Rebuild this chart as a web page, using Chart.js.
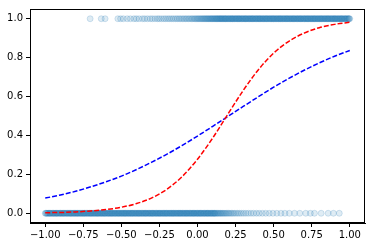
<!DOCTYPE html>
<html>
<head>
<meta charset="utf-8">
<script src="https://cdn.jsdelivr.net/npm/chart.js@4/dist/chart.umd.min.js"></script>
<style>
  html, body { margin: 0; padding: 0; background: #fff; }
  canvas { display: block; }
</style>
</head>
<body>
<canvas id="chart" width="372" height="248"></canvas>
<script>
// ejes
const xTicks = [-1.00, -0.75, -0.50, -0.25, 0.00, 0.25, 0.50, 0.75, 1.00];
const yTicks = [0.0, 0.2, 0.4, 0.6, 0.8, 1.0];

// curvas
const curveX = [-1.0, -0.9, -0.8, -0.7, -0.6, -0.5, -0.4, -0.3, -0.2, -0.1, 0.0,
                0.1, 0.2, 0.3, 0.4, 0.5, 0.6, 0.7, 0.8, 0.9, 1.0];
const redCurve = [0.003, 0.004, 0.007, 0.012, 0.019, 0.031, 0.050, 0.079, 0.124, 0.189, 0.278,
                  0.387, 0.510, 0.631, 0.738, 0.823, 0.884, 0.926, 0.954, 0.971, 0.982];
const blueCurve = [0.078, 0.094, 0.113, 0.136, 0.162, 0.191, 0.225, 0.263, 0.304, 0.349, 0.397,
                   0.447, 0.498, 0.549, 0.599, 0.648, 0.693, 0.735, 0.773, 0.807, 0.837];

// puntos con y = 0
const zeroX = [
  -1.000,-0.996,-0.991,-0.988,-0.982,-0.978,-0.973,-0.969,-0.966,-0.961,
  -0.955,-0.951,-0.946,-0.943,-0.937,-0.933,-0.928,-0.924,-0.921,-0.916,
  -0.910,-0.906,-0.901,-0.898,-0.892,-0.888,-0.883,-0.879,-0.876,-0.871,
  -0.865,-0.861,-0.856,-0.853,-0.847,-0.843,-0.838,-0.834,-0.831,-0.826,
  -0.820,-0.816,-0.811,-0.808,-0.802,-0.798,-0.793,-0.789,-0.786,-0.781,
  -0.775,-0.771,-0.766,-0.763,-0.757,-0.753,-0.748,-0.744,-0.741,-0.736,
  -0.730,-0.726,-0.721,-0.718,-0.712,-0.708,-0.703,-0.699,-0.696,-0.691,
  -0.685,-0.681,-0.676,-0.673,-0.667,-0.663,-0.658,-0.654,-0.651,-0.646,
  -0.640,-0.636,-0.631,-0.628,-0.622,-0.618,-0.613,-0.609,-0.606,-0.601,
  -0.595,-0.591,-0.586,-0.583,-0.577,-0.573,-0.568,-0.564,-0.561,-0.556,
  -0.550,-0.546,-0.541,-0.538,-0.532,-0.528,-0.523,-0.519,-0.516,-0.511,
  -0.505,-0.501,-0.496,-0.493,-0.487,-0.483,-0.478,-0.474,-0.471,-0.466,
  -0.460,-0.456,-0.451,-0.448,-0.442,-0.438,-0.433,-0.429,-0.426,-0.421,
  -0.415,-0.411,-0.406,-0.403,-0.397,-0.393,-0.388,-0.384,-0.381,-0.376,
  -0.370,-0.366,-0.361,-0.358,-0.352,-0.348,-0.343,-0.339,-0.336,-0.331,
  -0.325,-0.321,-0.316,-0.313,-0.307,-0.303,-0.298,-0.294,-0.291,-0.286,
  -0.280,-0.276,-0.271,-0.268,-0.262,-0.258,-0.253,-0.249,-0.246,-0.241,
  -0.235,-0.231,-0.226,-0.223,-0.217,-0.213,-0.208,-0.204,-0.201,-0.196,
  -0.190,-0.186,-0.181,-0.178,-0.172,-0.168,-0.163,-0.159,-0.156,-0.151,
  -0.145,-0.141,-0.136,-0.133,-0.127,-0.123,-0.118,-0.114,-0.111,-0.106,
  -0.100,-0.096,-0.091,-0.088,-0.082,-0.078,-0.073,-0.069,-0.066,-0.061,
  -0.055,-0.051,-0.046,-0.043,-0.037,-0.033,-0.028,-0.024,-0.021,-0.016,
  -0.010,-0.006,-0.001,0.002,0.008,0.012,0.017,0.021,0.024,0.029,
  0.035,0.039,0.044,0.047,0.053,0.057,0.062,0.066,0.069,0.074,
  0.080,0.084,0.089,0.092,0.098,0.102,0.107,0.111,0.114,0.119,
  0.125,0.131,0.136,0.142,0.149,0.154,0.161,0.167,0.174,0.181,
  0.189,0.196,0.205,0.213,0.222,0.232,0.241,0.253,0.264,0.276,
  0.289,0.303,0.318,0.334,0.351,0.368,0.387,0.405,0.426,0.448,
  0.471,0.495,0.521,0.548,0.574,0.603,0.637,0.672,0.711,0.741,
  0.768,0.812,0.858,0.893,0.931
];

// puntos con y = 1
const oneX = [
  -0.705,-0.632,-0.607,-0.523,-0.505,-0.487,-0.462,-0.441,-0.418,-0.402,
  -0.384,-0.362,-0.347,-0.329,-0.311,-0.296,-0.279,-0.263,-0.251,-0.236,
  -0.221,-0.208,-0.194,-0.182,-0.169,-0.157,-0.144,-0.133,-0.121,-0.111,
  -0.099,-0.089,-0.078,-0.069,-0.058,-0.049,-0.039,-0.031,-0.022,-0.014,
  -0.006,0.001,0.008,0.015,0.022,0.028,0.035,0.041,0.047,0.053,
  0.059,0.064,0.070,0.075,0.081,0.086,0.091,0.096,0.101,0.106,
  0.111,0.116,0.121,0.125,0.130,0.134,0.139,0.143,0.148,
  0.152,0.156,0.161,0.164,0.170,0.174,0.179,0.183,0.186,0.191,
  0.197,0.201,0.206,0.209,0.215,0.219,0.224,0.228,0.231,0.236,
  0.242,0.246,0.251,0.254,0.260,0.264,0.269,0.273,0.276,0.281,
  0.287,0.291,0.296,0.299,0.305,0.309,0.314,0.318,0.321,0.326,
  0.332,0.336,0.341,0.344,0.350,0.354,0.359,0.363,0.366,0.371,
  0.377,0.381,0.386,0.389,0.395,0.399,0.404,0.408,0.411,0.416,
  0.422,0.426,0.431,0.434,0.440,0.444,0.449,0.453,0.456,0.461,
  0.467,0.471,0.476,0.479,0.485,0.489,0.494,0.498,0.501,0.506,
  0.512,0.516,0.521,0.524,0.530,0.534,0.539,0.543,0.546,0.551,
  0.557,0.561,0.566,0.569,0.575,0.579,0.584,0.588,0.591,0.596,
  0.602,0.606,0.611,0.614,0.620,0.624,0.629,0.633,0.636,0.641,
  0.647,0.651,0.656,0.659,0.665,0.669,0.674,0.678,0.681,0.686,
  0.692,0.696,0.701,0.704,0.710,0.714,0.719,0.723,0.726,0.731,
  0.737,0.741,0.746,0.749,0.755,0.759,0.764,0.768,0.771,0.776,
  0.782,0.786,0.791,0.794,0.800,0.804,0.809,0.813,0.816,0.821,
  0.827,0.831,0.836,0.839,0.845,0.849,0.854,0.858,0.861,0.866,
  0.872,0.876,0.881,0.884,0.890,0.894,0.899,0.903,0.906,0.911,
  0.917,0.921,0.926,0.929,0.935,0.939,0.944,0.948,0.951,0.956,
  0.962,0.966,0.971,0.974,0.980,0.984,0.989,0.993,0.996,1.000
];

const FONT = { family: 'DejaVu Sans', size: 10 };
const minus = v => v.replace('-', '\u2212');

// marco completo alrededor del área del gráfico
const frame = {
  id: 'frame',
  afterDraw(chart) {
    const a = chart.chartArea, c = chart.ctx;
    c.save();
    c.strokeStyle = '#000';
    c.lineWidth = 1;
    c.strokeRect(Math.round(a.left) + 0.5, Math.round(a.top) + 0.5,
                 Math.round(a.right - a.left) - 1, Math.round(a.bottom - a.top) - 1);
    c.restore();
  }
};

const dots = {
  showLine: false,
  pointRadius: 3,
  pointBorderWidth: 1,
  pointBackgroundColor: 'rgba(31,119,180,0.14)',
  pointBorderColor: 'rgba(31,119,180,0.18)'
};

new Chart(document.getElementById('chart'), {
  type: 'scatter',
  data: {
    datasets: [
      {
        label: 'red',
        data: curveX.map((x, i) => ({ x, y: redCurve[i] })),
        showLine: true, borderColor: '#ff0000', borderWidth: 1.5,
        borderDash: [5, 2], pointRadius: 0, cubicInterpolationMode: 'monotone', order: 0
      },
      {
        label: 'blue',
        data: curveX.map((x, i) => ({ x, y: blueCurve[i] })),
        showLine: true, borderColor: '#0000ff', borderWidth: 1.5,
        borderDash: [5, 2], pointRadius: 0, cubicInterpolationMode: 'monotone', order: 0
      },
      Object.assign({ label: 'y0', data: zeroX.map(x => ({ x, y: 0 })), order: 1 }, dots),
      Object.assign({ label: 'y1', data: oneX.map(x => ({ x, y: 1 })), order: 1 }, dots)
    ]
  },
  options: {
    responsive: false,
    animation: false,
    layout: { padding: { top: 6, right: 7, left: 0, bottom: 0 } },
    plugins: { legend: { display: false }, tooltip: { enabled: false } },
    scales: {
      x: {
        type: 'linear', min: -1.1, max: 1.1,
        afterFit: s => { s.height = 25; },
        afterBuildTicks: s => { s.ticks = xTicks.map(v => ({ value: v })); },
        grid: { display: true, drawOnChartArea: false, drawTicks: true, tickLength: 4, color: '#000' },
        border: { display: true, color: '#000' },
        ticks: { font: FONT, color: '#000', padding: 2, maxRotation: 0,
                 callback: v => minus(v.toFixed(2)) }
      },
      y: {
        type: 'linear', min: -0.05, max: 1.05,
        afterFit: s => { s.width = 30; },
        afterBuildTicks: s => { s.ticks = yTicks.map(v => ({ value: v })); },
        grid: { display: true, drawOnChartArea: false, drawTicks: true, tickLength: 4, color: '#000' },
        border: { display: true, color: '#000' },
        ticks: { font: FONT, color: '#000', padding: 3,
                 callback: v => minus(v.toFixed(1)) }
      }
    }
  },
  plugins: [frame]
});
</script>
</body>
</html>
